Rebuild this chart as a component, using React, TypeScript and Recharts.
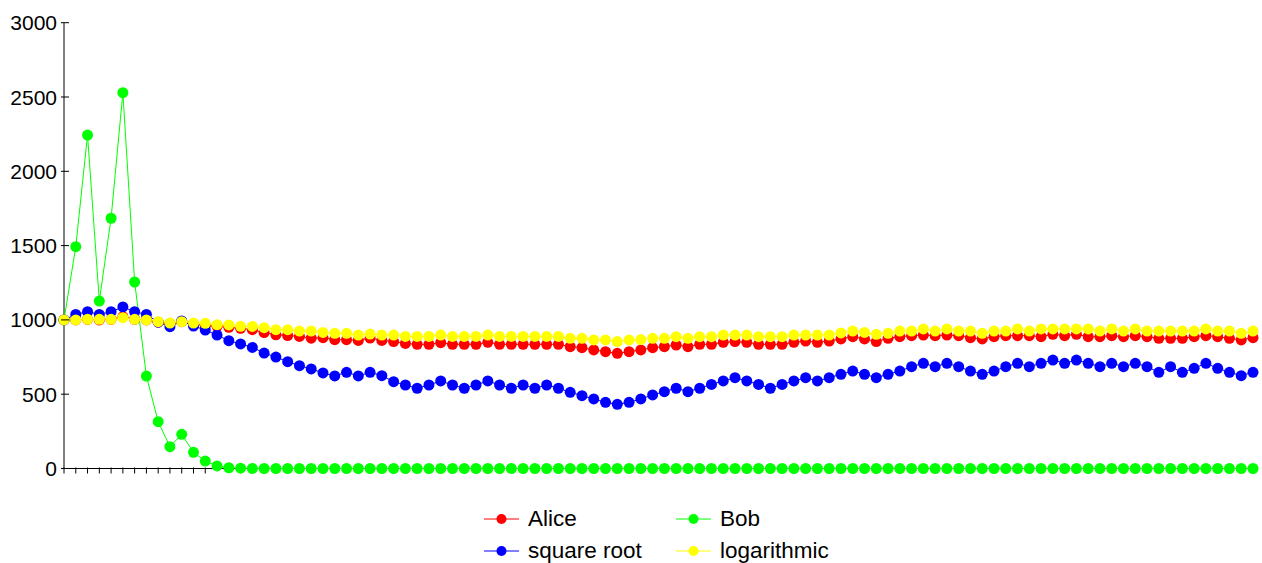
import { LineChart, Line, XAxis, YAxis, Legend } from "recharts";

const categories = [
  1, 2, 3, 4, 5, 6, 7, 8, 9, 10, 11, 12, 13, 14, 15, 16, 17, 18, 19, 20,
  21, 22, 23, 24, 25, 26, 27, 28, 29, 30, 31, 32, 33, 34, 35, 36, 37, 38, 39, 40,
  41, 42, 43, 44, 45, 46, 47, 48, 49, 50, 51, 52, 53, 54, 55, 56, 57, 58, 59, 60,
  61, 62, 63, 64, 65, 66, 67, 68, 69, 70, 71, 72, 73, 74, 75, 76, 77, 78, 79, 80,
  81, 82, 83, 84, 85, 86, 87, 88, 89, 90, 91, 92, 93, 94, 95, 96, 97, 98, 99, 100,
  101, 102,
];

const alice = [
  1000, 1000, 1004, 1000, 1004, 1022, 1004, 1000, 985, 975, 988, 972, 962, 957, 950, 943, 934, 915, 900, 895,
  889, 877, 880, 867, 867, 862, 878, 862, 854, 842, 836, 836, 847, 836, 836, 836, 849, 836, 836, 836,
  836, 836, 836, 820, 813, 798, 786, 775, 786, 798, 813, 820, 831, 820, 836, 836, 849, 854, 849, 836,
  836, 836, 849, 858, 849, 858, 872, 887, 872, 854, 876, 887, 894, 898, 894, 898, 894, 880, 872, 887,
  894, 894, 894, 887, 903, 894, 903, 887, 887, 894, 887, 894, 887, 876, 876, 876, 887, 894, 887, 876,
  865, 880,
];

const bob = [
  1000, 1493, 2244, 1127, 1684, 2529, 1255, 622, 315, 147, 230, 109, 50, 17, 5, 2, 0, 0, 0, 0,
  0, 0, 0, 0, 0, 0, 0, 0, 0, 0, 0, 0, 0, 0, 0, 0, 0, 0, 0, 0,
  0, 0, 0, 0, 0, 0, 0, 0, 0, 0, 0, 0, 0, 0, 0, 0, 0, 0, 0, 0,
  0, 0, 0, 0, 0, 0, 0, 0, 0, 0, 0, 0, 0, 0, 0, 0, 0, 0, 0, 0,
  0, 0, 0, 0, 0, 0, 0, 0, 0, 0, 0, 0, 0, 0, 0, 0, 0, 0, 0, 0,
  0, 0,
];

const squareRoot = [
  1000, 1037, 1055, 1037, 1055, 1087, 1055, 1037, 985, 954, 993, 959, 932, 898, 860, 838, 815, 777, 750, 719,
  692, 670, 643, 623, 647, 623, 647, 625, 584, 562, 540, 562, 589, 562, 540, 562, 589, 562, 540, 562,
  540, 562, 540, 513, 490, 468, 445, 432, 445, 468, 495, 517, 540, 517, 540, 566, 589, 611, 589, 566,
  540, 566, 589, 611, 589, 611, 634, 656, 634, 611, 634, 656, 685, 708, 685, 708, 685, 656, 634, 656,
  685, 708, 685, 708, 730, 708, 730, 708, 685, 708, 685, 708, 685, 647, 685, 647, 674, 708, 674, 647,
  625, 647,
];

const logarithmic = [
  1000, 1000, 1004, 1004, 1004, 1015, 1004, 1000, 988, 979, 988, 979, 977, 968, 966, 957, 956, 948, 934, 934,
  925, 925, 916, 910, 910, 898, 905, 898, 898, 889, 889, 889, 898, 889, 889, 889, 898, 889, 889, 889,
  889, 889, 889, 876, 876, 865, 865, 854, 865, 868, 876, 876, 887, 876, 887, 887, 898, 898, 898, 887,
  887, 887, 898, 898, 898, 898, 912, 925, 916, 903, 910, 925, 925, 939, 925, 939, 925, 925, 910, 925,
  925, 939, 925, 939, 939, 939, 939, 939, 925, 939, 925, 939, 925, 925, 925, 925, 925, 939, 925, 925,
  910, 925,
];

const yTicks = [0, 500, 1000, 1500, 2000, 2500, 3000];

const data = categories.map((c, i) => ({
  cat: c,
  alice: alice[i],
  bob: bob[i],
  sqrt: squareRoot[i],
  log: logarithmic[i],
}));

const series = [
  { key: "alice", name: "Alice", color: "#ff0000" },
  { key: "bob", name: "Bob", color: "#00ff00" },
  { key: "sqrt", name: "square root", color: "#0000ff" },
  { key: "log", name: "logarithmic", color: "#ffff00" },
];

const FONT = "'Liberation Sans', Arial, sans-serif";

const YTick = ({ x, y, payload }: any) => (
  <g>
    <line x1={x - 3} x2={x + 5} y1={y} y2={y} stroke="#000" />
    <text x={x - 7} y={y} dy={7.5} textAnchor="end" fontSize={21} fill="#000" fontFamily={FONT}>
      {payload.value}
    </text>
  </g>
);

// only the first 13 categories carry a tick mark in the original
const XTick = ({ x, y, index }: any) =>
  index < 13 ? <line x1={x} x2={x} y1={y - 1} y2={y + 5} stroke="#000" /> : <g />;

const LegendBox = () => (
  <div style={{ display: "grid", gridTemplateColumns: "192px 200px", fontFamily: FONT, fontSize: 22.5 }}>
    {series.map((s) => (
      <div key={s.key} style={{ display: "flex", alignItems: "center", height: 32 }}>
        <svg width={35} height={14}>
          <line x1={0} x2={35} y1={7} y2={7} stroke={s.color} strokeWidth={1} />
          <circle cx={17.5} cy={7} r={5} fill={s.color} />
        </svg>
        <span style={{ marginLeft: 9, color: "#000" }}>{s.name}</span>
      </div>
    ))}
  </div>
);

export default function App() {
  return (
    <div style={{ position: "absolute", left: 0, top: 0, background: "#fff" }}>
      <LineChart width={1262} height={563} data={data} margin={{ top: 22.7, right: 9, left: 0, bottom: 74.5 }}>
        <XAxis
          dataKey="cat"
          interval={0}
          height={20}
          tickLine={false}
          tickSize={0}
          tickMargin={0}
          tick={<XTick />}
          axisLine={{ stroke: "#000" }}
        />
        <YAxis
          width={64}
          domain={[0, 3000]}
          ticks={yTicks}
          tickLine={false}
          tickSize={0}
          tickMargin={0}
          tick={<YTick />}
          axisLine={{ stroke: "#000" }}
        />
        <Legend
          layout="horizontal"
          verticalAlign="middle"
          align="center"
          content={<LegendBox />}
          wrapperStyle={{ top: 503, left: 484, width: 400 }}
        />
        {series.map((s) => (
          <Line
            key={s.key}
            type="linear"
            dataKey={s.key}
            name={s.name}
            stroke={s.color}
            strokeWidth={1}
            dot={{ r: 5.5, fill: s.color, stroke: "none" }}
            activeDot={false}
            isAnimationActive={false}
            {...({ zIndex: 600 } as any)}
          />
        ))}
      </LineChart>
    </div>
  );
}
